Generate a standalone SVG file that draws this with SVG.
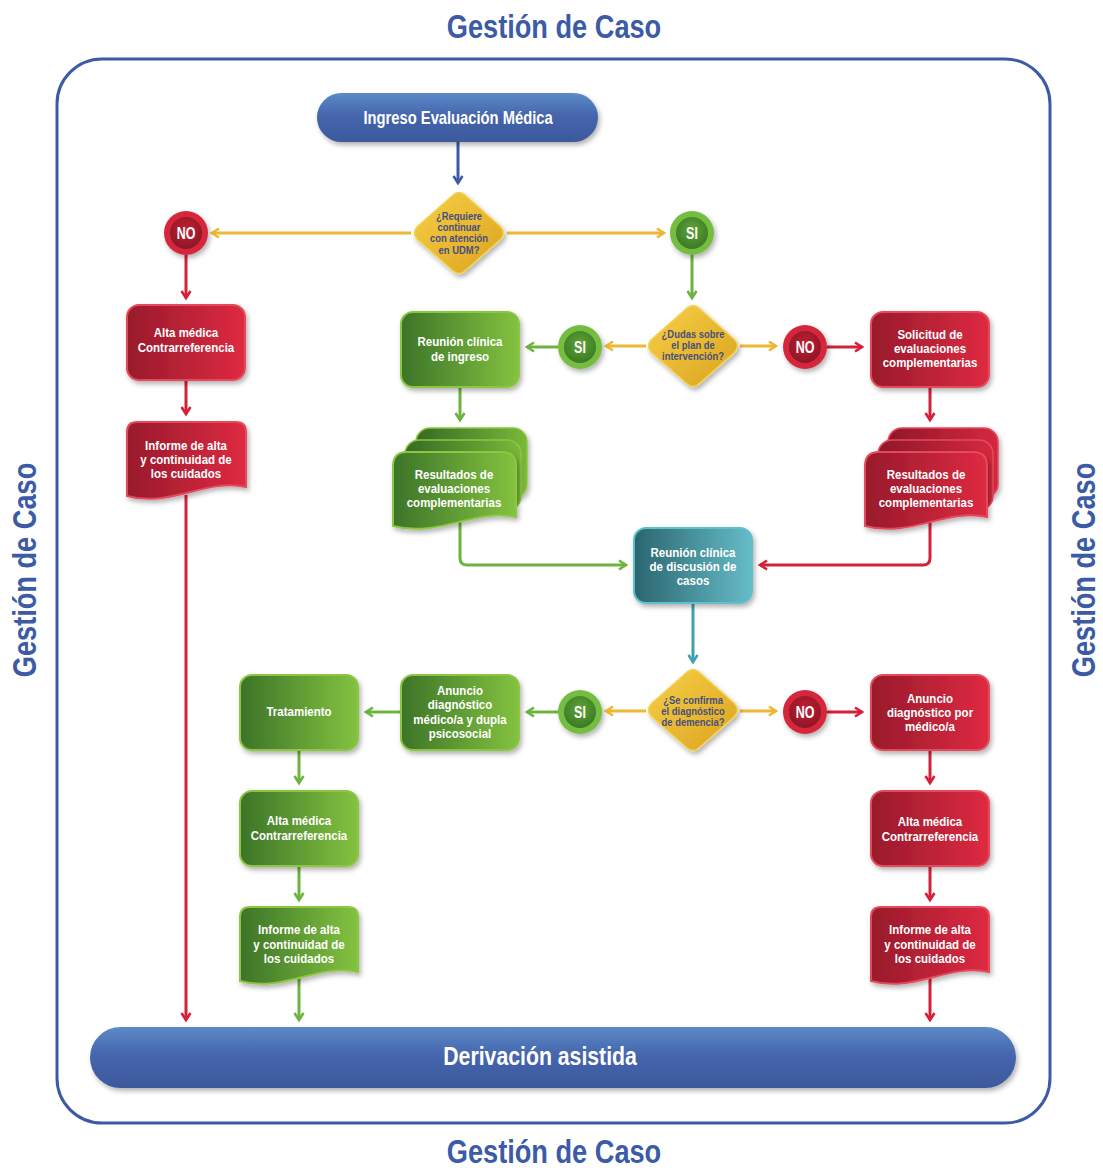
<svg xmlns="http://www.w3.org/2000/svg" width="1103" height="1171" viewBox="0 0 1103 1171">
<defs>
<style>
.t{font-family:"Liberation Sans",Arial,sans-serif;font-weight:bold;text-anchor:middle;transform-box:fill-box;transform-origin:center;transform:scaleX(0.82)}
.w{fill:#ffffff;font-size:13px;transform:scaleX(0.885)}
.q{fill:#46507e;font-size:10.5px;transform:scaleX(0.9)}
.yn{fill:#ffffff;font-size:16px;transform:scaleX(0.78)}
.title{fill:#3c5ba6;font-size:34px;transform:scaleX(0.8)}
.side{font-family:"Liberation Sans",Arial,sans-serif;font-weight:bold;text-anchor:middle;fill:#3c5ba6;font-size:34px}
.c{fill:none;stroke-width:3;stroke-linejoin:round}
.red{stroke:#d4213a}.grn{stroke:#6cb33f}.yel{stroke:#edb833}.blu{stroke:#3d5ba5}.tea{stroke:#3fa0ae}
.rbox{fill:url(#gR);stroke:#e64a5b;stroke-width:2}
.gbox{fill:url(#gG);stroke:#8dc63f;stroke-width:2}
.rback{fill:url(#gR2);stroke:#e64a5b;stroke-width:1.5}
.gback{fill:url(#gG2);stroke:#8dc63f;stroke-width:1.5}
</style>
<linearGradient id="gR" x1="0" y1="0" x2="1" y2="0"><stop offset="0" stop-color="#981a2b"/><stop offset="1" stop-color="#de2a42"/></linearGradient>
<linearGradient id="gR2" x1="0" y1="0" x2="1" y2="0"><stop offset="0" stop-color="#8e1828"/><stop offset="1" stop-color="#d62840"/></linearGradient>
<linearGradient id="gG" x1="0" y1="0" x2="1" y2="0"><stop offset="0" stop-color="#3c7428"/><stop offset="1" stop-color="#84c240"/></linearGradient>
<linearGradient id="gG2" x1="0" y1="0" x2="1" y2="0"><stop offset="0" stop-color="#366a25"/><stop offset="1" stop-color="#79b83a"/></linearGradient>
<linearGradient id="gT" x1="0" y1="0" x2="1" y2="0"><stop offset="0" stop-color="#2a666f"/><stop offset="1" stop-color="#66bcc7"/></linearGradient>
<linearGradient id="gB" x1="0" y1="0" x2="0" y2="1"><stop offset="0" stop-color="#5d8ac8"/><stop offset="0.45" stop-color="#4566ad"/><stop offset="1" stop-color="#3d599c"/></linearGradient>
<linearGradient id="gY" x1="0" y1="0" x2="1" y2="1"><stop offset="0" stop-color="#f6cf45"/><stop offset="1" stop-color="#dca321"/></linearGradient>
<radialGradient id="gCr" cx="0.5" cy="0.4" r="0.6"><stop offset="0" stop-color="#c21f33"/><stop offset="1" stop-color="#8d1626"/></radialGradient>
<radialGradient id="gCg" cx="0.5" cy="0.4" r="0.6"><stop offset="0" stop-color="#5fa436"/><stop offset="1" stop-color="#3b7a25"/></radialGradient>
<filter id="sh" x="-20%" y="-20%" width="140%" height="150%"><feDropShadow dx="2" dy="3" stdDeviation="2.5" flood-color="#000" flood-opacity="0.3"/></filter>
<path id="dia" d="M-7,-37 Q0,-44 7,-37 L41,-7 Q48,0 41,7 L7,37 Q0,44 -7,37 L-41,7 Q-48,0 -41,-7 Z"/>
<marker id="mR" viewBox="0 0 12 12" refX="9" refY="6" markerWidth="12" markerHeight="12" markerUnits="userSpaceOnUse" orient="auto"><path d="M2,1.5 L9,6 L2,10.5" fill="none" stroke="#d4213a" stroke-width="2.6"/></marker>
<marker id="mG" viewBox="0 0 12 12" refX="9" refY="6" markerWidth="12" markerHeight="12" markerUnits="userSpaceOnUse" orient="auto"><path d="M2,1.5 L9,6 L2,10.5" fill="none" stroke="#6cb33f" stroke-width="2.6"/></marker>
<marker id="mY" viewBox="0 0 12 12" refX="9" refY="6" markerWidth="12" markerHeight="12" markerUnits="userSpaceOnUse" orient="auto"><path d="M2,1.5 L9,6 L2,10.5" fill="none" stroke="#edb833" stroke-width="2.6"/></marker>
<marker id="mB" viewBox="0 0 12 12" refX="9" refY="6" markerWidth="12" markerHeight="12" markerUnits="userSpaceOnUse" orient="auto"><path d="M2,1.5 L9,6 L2,10.5" fill="none" stroke="#3d5ba5" stroke-width="2.6"/></marker>
<marker id="mT" viewBox="0 0 12 12" refX="9" refY="6" markerWidth="12" markerHeight="12" markerUnits="userSpaceOnUse" orient="auto"><path d="M2,1.5 L9,6 L2,10.5" fill="none" stroke="#3fa0ae" stroke-width="2.6"/></marker>
</defs>
<rect width="1103" height="1171" fill="#ffffff"/>

<g id="frame">
<rect x="57" y="59" width="993" height="1064" rx="45" fill="none" stroke="#3d5aa5" stroke-width="3"/>
<text class="t title" x="554" y="38">Gestión de Caso</text>
<text class="t title" x="554" y="1163">Gestión de Caso</text>
<text class="side" transform="translate(36,570) rotate(-90) scale(0.8,1)">Gestión de Caso</text>
<text class="side" transform="translate(1095,570) rotate(-90) scale(0.8,1)">Gestión de Caso</text>
</g>

<g id="connectors">
<path class="c blu" d="M458,142 V183" marker-end="url(#mB)"/>
<path class="c yel" d="M411,233 H212" marker-end="url(#mY)"/>
<path class="c yel" d="M507,233 H664" marker-end="url(#mY)"/>
<path class="c red" d="M186,255 V298" marker-end="url(#mR)"/>
<path class="c red" d="M186,380 V414" marker-end="url(#mR)"/>
<path class="c red" d="M186,495 V1020" marker-end="url(#mR)"/>
<path class="c grn" d="M692,255 V298" marker-end="url(#mG)"/>
<path class="c yel" d="M646,346 H606" marker-end="url(#mY)"/>
<path class="c grn" d="M558,347 H527" marker-end="url(#mG)"/>
<path class="c yel" d="M740,346 H776" marker-end="url(#mY)"/>
<path class="c red" d="M827,347 H862" marker-end="url(#mR)"/>
<path class="c grn" d="M460,387 V420" marker-end="url(#mG)"/>
<path class="c red" d="M930,387 V420" marker-end="url(#mR)"/>
<path class="c grn" d="M460,522 V558 Q460,565 467,565 H626" marker-end="url(#mG)"/>
<path class="c red" d="M930,522 V558 Q930,565 923,565 H760" marker-end="url(#mR)"/>
<path class="c tea" d="M693,603 V662" marker-end="url(#mT)"/>
<path class="c yel" d="M646,711 H606" marker-end="url(#mY)"/>
<path class="c grn" d="M558,712 H527" marker-end="url(#mG)"/>
<path class="c grn" d="M401,712 H366" marker-end="url(#mG)"/>
<path class="c yel" d="M740,711 H776" marker-end="url(#mY)"/>
<path class="c red" d="M827,712 H862" marker-end="url(#mR)"/>
<path class="c grn" d="M299,750 V783" marker-end="url(#mG)"/>
<path class="c grn" d="M299,866 V900" marker-end="url(#mG)"/>
<path class="c grn" d="M299,978 V1020" marker-end="url(#mG)"/>
<path class="c red" d="M930,750 V783" marker-end="url(#mR)"/>
<path class="c red" d="M930,866 V900" marker-end="url(#mR)"/>
<path class="c red" d="M930,978 V1020" marker-end="url(#mR)"/>
</g>

<g id="ingreso">
<rect x="317" y="93" width="281" height="49" rx="24.5" fill="url(#gB)" filter="url(#sh)"/>
<text class="t" x="458" y="124" fill="#fff" font-size="18">Ingreso Evaluación Médica</text>
</g>

<g id="d1" transform="translate(459,233)">
<use href="#dia" fill="url(#gY)" stroke="#f4d256" stroke-width="1.5" filter="url(#sh)"/>
<text class="t q" y="-13">¿Requiere</text>
<text class="t q" y="-2">continuar</text>
<text class="t q" y="9.5">con atención</text>
<text class="t q" y="21">en UDM?</text>
</g>

<g id="no1">
<circle cx="186" cy="233" r="22" fill="#d6263b" filter="url(#sh)"/>
<circle cx="186" cy="233" r="16" fill="url(#gCr)"/>
<text class="t yn" x="186" y="239">NO</text>
</g>
<g id="si1">
<circle cx="692" cy="233" r="22" fill="#74bd40" filter="url(#sh)"/>
<circle cx="692" cy="233" r="16" fill="url(#gCg)"/>
<text class="t yn" x="692" y="239">SI</text>
</g>

<g id="alta1">
<rect class="rbox" x="127" y="305" width="118" height="75" rx="12" filter="url(#sh)"/>
<text class="t w" x="186" y="337">Alta médica</text>
<text class="t w" x="186" y="352">Contrarreferencia</text>
</g>

<g id="informe1">
<path class="rbox" d="M127,432 Q127,422 137,422 H236 Q246,422 246,432 V487 C206,478 170,508 127,496 Z" filter="url(#sh)"/>
<text class="t w" x="186" y="450">Informe de alta</text>
<text class="t w" x="186" y="464">y continuidad de</text>
<text class="t w" x="186" y="478">los cuidados</text>
</g>

<g id="d2" transform="translate(693,346)">
<use href="#dia" fill="url(#gY)" stroke="#f4d256" stroke-width="1.5" filter="url(#sh)"/>
<text class="t q" y="-8">¿Dudas sobre</text>
<text class="t q" y="3">el plan de</text>
<text class="t q" y="14">intervención?</text>
</g>

<g id="si2">
<circle cx="580" cy="347" r="22" fill="#74bd40" filter="url(#sh)"/>
<circle cx="580" cy="347" r="16" fill="url(#gCg)"/>
<text class="t yn" x="580" y="353">SI</text>
</g>
<g id="no2">
<circle cx="805" cy="347" r="22" fill="#d6263b" filter="url(#sh)"/>
<circle cx="805" cy="347" r="16" fill="url(#gCr)"/>
<text class="t yn" x="805" y="353">NO</text>
</g>

<g id="reunion-ingreso">
<rect class="gbox" x="401" y="312" width="118" height="75" rx="12" filter="url(#sh)"/>
<text class="t w" x="460" y="346">Reunión clínica</text>
<text class="t w" x="460" y="361">de ingreso</text>
</g>

<g id="solicitud">
<rect class="rbox" x="871" y="312" width="118" height="75" rx="12" filter="url(#sh)"/>
<text class="t w" x="930" y="339">Solicitud de</text>
<text class="t w" x="930" y="353">evaluaciones</text>
<text class="t w" x="930" y="367">complementarias</text>
</g>

<g id="resultados-g">
<rect class="gback" x="416" y="428" width="111" height="70" rx="14" filter="url(#sh)"/>
<rect class="gback" x="405" y="440" width="116" height="70" rx="14"/>
<path class="gbox" d="M393,466 Q393,452 407,452 H502 Q516,452 516,466 V517 C476,508 438,538 393,526 Z" filter="url(#sh)"/>
<text class="t w" x="454" y="479">Resultados de</text>
<text class="t w" x="454" y="493">evaluaciones</text>
<text class="t w" x="454" y="507">complementarias</text>
</g>

<g id="resultados-r">
<rect class="rback" x="888" y="428" width="110" height="70" rx="14" filter="url(#sh)"/>
<rect class="rback" x="878" y="440" width="115" height="70" rx="14"/>
<path class="rbox" d="M865,466 Q865,452 879,452 H973 Q987,452 987,466 V517 C947,508 910,538 865,526 Z" filter="url(#sh)"/>
<text class="t w" x="926" y="479">Resultados de</text>
<text class="t w" x="926" y="493">evaluaciones</text>
<text class="t w" x="926" y="507">complementarias</text>
</g>

<g id="discusion">
<rect x="634" y="528" width="118" height="75" rx="12" fill="url(#gT)" stroke="#5fc0cc" stroke-width="2" filter="url(#sh)"/>
<text class="t w" x="693" y="557">Reunión clínica</text>
<text class="t w" x="693" y="571">de discusión de</text>
<text class="t w" x="693" y="585">casos</text>
</g>

<g id="d3" transform="translate(693,710)">
<use href="#dia" fill="url(#gY)" stroke="#f4d256" stroke-width="1.5" filter="url(#sh)"/>
<text class="t q" y="-6">¿Se confirma</text>
<text class="t q" y="5">el diagnóstico</text>
<text class="t q" y="16">de demencia?</text>
</g>

<g id="si3">
<circle cx="580" cy="712" r="22" fill="#74bd40" filter="url(#sh)"/>
<circle cx="580" cy="712" r="16" fill="url(#gCg)"/>
<text class="t yn" x="580" y="718">SI</text>
</g>
<g id="no3">
<circle cx="805" cy="712" r="22" fill="#d6263b" filter="url(#sh)"/>
<circle cx="805" cy="712" r="16" fill="url(#gCr)"/>
<text class="t yn" x="805" y="718">NO</text>
</g>

<g id="anuncio-g">
<rect class="gbox" x="401" y="675" width="118" height="75" rx="12" filter="url(#sh)"/>
<text class="t w" x="460" y="695">Anuncio</text>
<text class="t w" x="460" y="709">diagnóstico</text>
<text class="t w" x="460" y="724">médico/a y dupla</text>
<text class="t w" x="460" y="738">psicosocial</text>
</g>

<g id="tratamiento">
<rect class="gbox" x="240" y="675" width="118" height="75" rx="12" filter="url(#sh)"/>
<text class="t w" x="299" y="716">Tratamiento</text>
</g>

<g id="anuncio-r">
<rect class="rbox" x="871" y="675" width="118" height="75" rx="12" filter="url(#sh)"/>
<text class="t w" x="930" y="703">Anuncio</text>
<text class="t w" x="930" y="717">diagnóstico por</text>
<text class="t w" x="930" y="731">médico/a</text>
</g>

<g id="alta-g">
<rect class="gbox" x="240" y="791" width="118" height="75" rx="12" filter="url(#sh)"/>
<text class="t w" x="299" y="825">Alta médica</text>
<text class="t w" x="299" y="840">Contrarreferencia</text>
</g>

<g id="alta-r">
<rect class="rbox" x="871" y="791" width="118" height="75" rx="12" filter="url(#sh)"/>
<text class="t w" x="930" y="826">Alta médica</text>
<text class="t w" x="930" y="841">Contrarreferencia</text>
</g>

<g id="informe-g">
<path class="gbox" d="M240,917 Q240,907 250,907 H348 Q358,907 358,917 V972 C318,963 283,993 240,981 Z" filter="url(#sh)"/>
<text class="t w" x="299" y="934">Informe de alta</text>
<text class="t w" x="299" y="949">y continuidad de</text>
<text class="t w" x="299" y="963">los cuidados</text>
</g>

<g id="informe-r">
<path class="rbox" d="M871,917 Q871,907 881,907 H979 Q989,907 989,917 V972 C949,963 914,993 871,981 Z" filter="url(#sh)"/>
<text class="t w" x="930" y="934">Informe de alta</text>
<text class="t w" x="930" y="949">y continuidad de</text>
<text class="t w" x="930" y="963">los cuidados</text>
</g>

<g id="derivacion">
<rect x="90" y="1027" width="926" height="61" rx="30.5" fill="url(#gB)" filter="url(#sh)"/>
<text class="t" x="540" y="1065" fill="#fff" font-size="25" style="transform:scaleX(0.85)">Derivación asistida</text>
</g>
</svg>
